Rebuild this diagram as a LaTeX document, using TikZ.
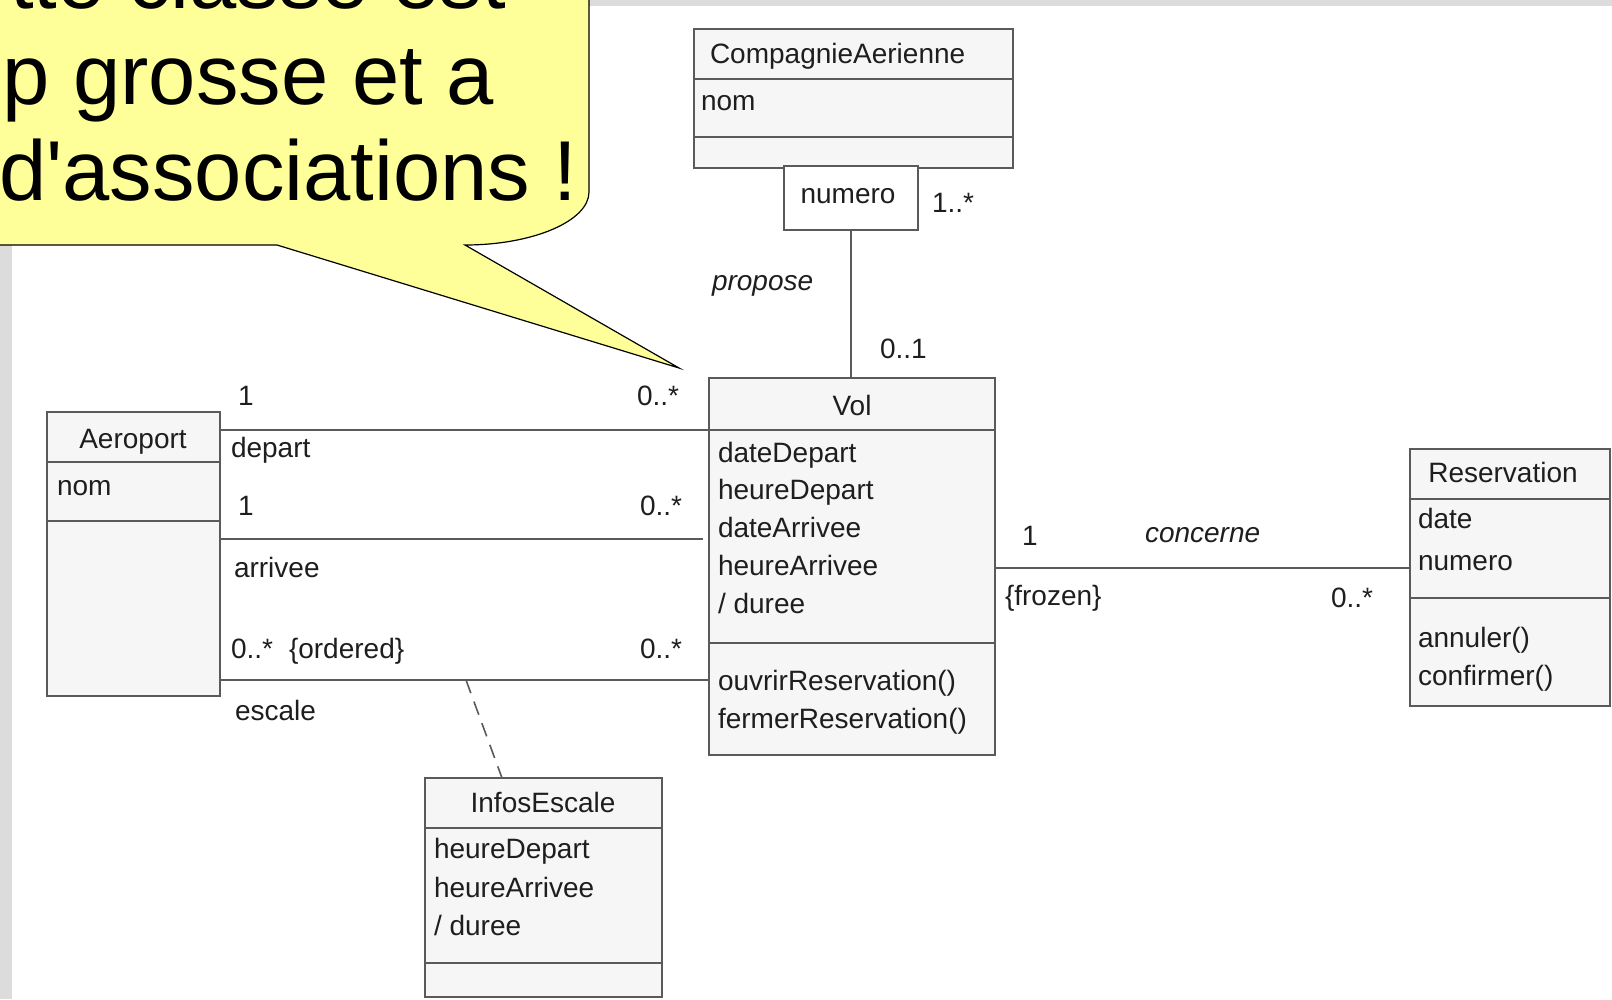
\documentclass[tikz,border=0pt]{standalone}
\usepackage{fontspec}
\setmainfont{Liberation Sans}
\newfontfamily\notefont[Ligatures=TeXOff]{Liberation Sans}
\definecolor{boxline}{HTML}{5A5A5A}
\definecolor{boxfill}{HTML}{F6F6F6}
\definecolor{frame}{HTML}{DCDCDC}
\definecolor{note}{HTML}{FFFF99}
\definecolor{txt}{HTML}{1E1E1E}
\begin{document}
\begin{tikzpicture}[x=1pt,y=-1pt,
  every node/.style={inner sep=0pt, outer sep=0pt},
  comp/.style={draw=boxline, fill=boxfill, line width=1.6pt, rectangle, anchor=north west},
  qualbox/.style={comp, fill=white},
  lbl/.style={font=\fontsize{28}{34}\selectfont, text=txt, anchor=base west},
  lblc/.style={lbl, anchor=base},
  assocname/.style={lbl, font=\fontsize{28}{34}\selectfont\itshape},
  assoc/.style={draw=boxline, line width=1.6pt},
  link/.style={assoc, dashed, dash pattern=on 14pt off 9pt},
  notetext/.style={font=\notefont\fontsize{85}{96}\selectfont, text=black, anchor=base west},
]
\useasboundingbox (0,0) rectangle (1612,999);

% window frame
\fill[frame] (0,0) rectangle (12,999);
\fill[frame] (0,0) rectangle (1612,6);

% ---------- CompagnieAerienne ----------
\node[comp, minimum width=319pt, minimum height=50pt] (caN) at (694,29) {};
\node[comp, minimum width=319pt, minimum height=58pt] (caA) at (694,79) {};
\node[comp, minimum width=319pt, minimum height=31pt] (caO) at (694,137) {};
\node[lbl] (caT) at (710,63) {CompagnieAerienne};
\node[lbl] (caNom) at (701,110) {nom};
% qualifier
\node[qualbox, minimum width=134pt, minimum height=64pt] (qual) at (784,166) {};
\node[lblc] (qualT) at (848,203) {numero};
\node[lbl] (m1) at (932,212) {1..*};

% ---------- Vol ----------
\node[comp, minimum width=286pt, minimum height=52pt] (volN) at (709,378) {};
\node[comp, minimum width=286pt, minimum height=213pt] (volA) at (709,430) {};
\node[comp, minimum width=286pt, minimum height=112pt] (volO) at (709,643) {};
\node[lblc] (volT) at (852,415) {Vol};
\node[lbl] (va1) at (718,462) {dateDepart};
\node[lbl] (va2) at (718,499) {heureDepart};
\node[lbl] (va3) at (718,537) {dateArrivee};
\node[lbl] (va4) at (718,575) {heureArrivee};
\node[lbl] (va5) at (718,613) {/ duree};
\node[lbl] (vo1) at (718,690) {ouvrirReservation()};
\node[lbl] (vo2) at (718,728) {fermerReservation()};

% ---------- Aeroport ----------
\node[comp, minimum width=173pt, minimum height=50pt] (aeN) at (47,412) {};
\node[comp, minimum width=173pt, minimum height=59pt] (aeA) at (47,462) {};
\node[comp, minimum width=173pt, minimum height=175pt] (aeO) at (47,521) {};
\node[lblc] (aeT) at (133,448) {Aeroport};
\node[lbl] (aeNom) at (57,495) {nom};

% ---------- Reservation ----------
\node[comp, minimum width=200pt, minimum height=50pt] (reN) at (1410,449) {};
\node[comp, minimum width=200pt, minimum height=99pt] (reA) at (1410,499) {};
\node[comp, minimum width=200pt, minimum height=108pt] (reO) at (1410,598) {};
\node[lblc] (reT) at (1503,482) {Reservation};
\node[lbl] (ra1) at (1418,528) {date};
\node[lbl] (ra2) at (1418,570) {numero};
\node[lbl] (ro1) at (1418,647) {annuler()};
\node[lbl] (ro2) at (1418,685) {confirmer()};

% ---------- InfosEscale ----------
\node[comp, minimum width=237pt, minimum height=50pt] (ieN) at (425,778) {};
\node[comp, minimum width=237pt, minimum height=135pt] (ieA) at (425,828) {};
\node[comp, minimum width=237pt, minimum height=34pt] (ieO) at (425,963) {};
\node[lblc] (ieT) at (543,812) {InfosEscale};
\node[lbl] (ia1) at (434,858) {heureDepart};
\node[lbl] (ia2) at (434,897) {heureArrivee};
\node[lbl] (ia3) at (434,935) {/ duree};

% ---------- associations ----------
% propose
\draw[assoc] (qual.south) -- (qual.south |- volN.north);
\node[assocname] (propose) at (712,290) {propose};
\node[lbl] (m01) at (880,358) {0..1};

% depart
\draw[assoc] (aeN.east |- volN.south) -- (volN.south west);
\node[lbl] (dep1) at (238,405) {1};
\node[lbl] (dep2) at (637,405) {0..*};
\node[lbl] (depR) at (231,457) {depart};

% arrivee
\coordinate (arrEnd) at (703,539);
\draw[assoc] (aeO.east |- arrEnd) -- (arrEnd);
\node[lbl] (arr1) at (238,515) {1};
\node[lbl] (arr2) at (640,515) {0..*};
\node[lbl] (arrR) at (234,577) {arrivee};

% escale, with its association class
\coordinate (escY) at (709,680);
\draw[assoc] (aeO.east |- escY) -- (volO.west |- escY);
\node[lbl] (esc1) at (231,658) {0..*};
\node[lbl] (escOrd) at (289,658) {\{ordered\}};
\node[lbl] (esc2) at (640,658) {0..*};
\node[lbl] (escR) at (235,720) {escale};
\coordinate (escMid) at (466,680);
\coordinate (ieTop) at (502,778);
\draw[link] (escMid) -- (ieTop);

% concerne
\coordinate (conY) at (1000,568);
\draw[assoc] (volA.east |- conY) -- (reA.west |- conY);
\node[lbl] (con1) at (1022,545) {1};
\node[assocname] (conName) at (1145,542) {concerne};
\node[lbl] (conFr) at (1005,605) {\{frozen\}};
\node[lbl] (con2) at (1331,607) {0..*};

% ---------- callout ----------
\draw[fill=note, draw=black, line width=1.2pt]
  (-10,-10) -- (589,-10) -- (589,192)
  .. controls (589,221) and (533,245) .. (465,245)
  -- (679,368) -- (277,245) -- (-10,245) -- cycle;
\node[notetext] (note1) at (10,8) {tte classe est};
\node[notetext] (note2) at (2.5,104) {p grosse et a};
\node[notetext] (note3) at (-1,200) {d'associations !};
\end{tikzpicture}
\end{document}
